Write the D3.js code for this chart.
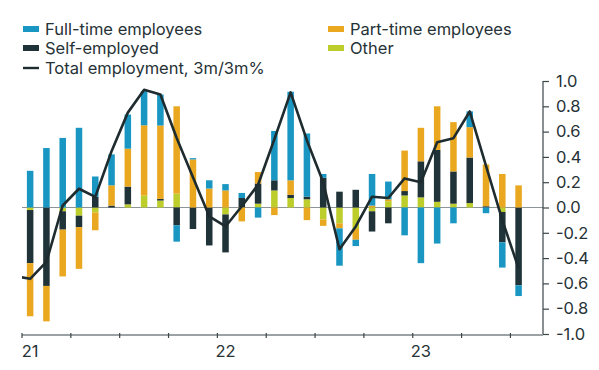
<!DOCTYPE html>
<html>
<head>
<meta charset="utf-8">
<script src="https://cdn.jsdelivr.net/npm/d3@7"></script>
<style>
  body { margin: 0; background: #fff; }
  svg text { font-family: Inter, "Liberation Sans", sans-serif; fill: #263236; }
</style>
</head>
<body>
<svg id="chart" width="599" height="370"></svg>
<script>
// Monthly, Jan 2021 - Jul 2023 (contributions, percentage points)
var months = ['2021-01','2021-02','2021-03','2021-04','2021-05','2021-06','2021-07','2021-08','2021-09','2021-10','2021-11','2021-12',
              '2022-01','2022-02','2022-03','2022-04','2022-05','2022-06','2022-07','2022-08','2022-09','2022-10','2022-11','2022-12',
              '2023-01','2023-02','2023-03','2023-04','2023-05','2023-06','2023-07'];

var fullTime = [0.29, 0.47, 0.55, 0.63, 0.16, 0.245, 0.27, 0.27, 0.245, -0.13, 0.01, 0.065,
                0.05, 0.04, -0.08, 0.39, 0.70, 0.50, 0.03, -0.295, -0.05, 0.25, 0.14, -0.22,
                -0.44, -0.285, -0.125, 0.125, -0.045, -0.20, -0.085];
var partTime = [-0.42, -0.28, -0.37, -0.33, -0.14, 0.16, 0.30, 0.555, 0.58, 0.69, 0.38, 0.15,
                0.135, -0.11, 0.09, -0.06, 0.115, -0.10, -0.05, -0.04, -0.085, 0.015, 0.015, 0.32,
                0.265, 0.345, 0.39, 0.24, 0.33, 0.265, 0.175];
var selfEmployed = [-0.42, -0.62, -0.145, -0.09, 0.085, 0.015, 0.14, 0, 0.013, -0.14, -0.17, -0.30,
                    -0.30, 0.075, 0.16, 0.08, 0.025, 0.02, 0.235, 0.125, 0.14, -0.16, -0.125, 0.035,
                    0.285, 0.41, 0.255, 0.36, 0.01, -0.24, -0.615];
var other = [-0.02, 0, -0.03, -0.065, -0.04, 0, 0.025, 0.095, 0.055, 0.11, 0, 0,
             -0.055, 0, 0.03, 0.135, 0.075, 0.065, -0.095, -0.125, -0.17, -0.03, 0.05, 0.095,
             0.08, 0.045, 0.03, 0.035, 0, -0.035, 0];

// Total employment line starts one month earlier (Dec 2020), clipped at the axis
var totalMonths = ['2020-12'].concat(months);
var total = [-0.54, -0.564, -0.43, 0.016, 0.148, 0.084, 0.445, 0.75, 0.93, 0.893, 0.55, 0.24, -0.07,
             -0.15, 0.01, 0.18, 0.54, 0.91, 0.53, 0.2, -0.33, -0.15, 0.085, 0.075, 0.23,
             0.2, 0.515, 0.548, 0.759, 0.33, -0.1, -0.48];

var yTicks = [1.0, 0.8, 0.6, 0.4, 0.2, 0.0, -0.2, -0.4, -0.6, -0.8, -1.0];
var yearLabels = [['2021-01', '21'], ['2022-01', '22'], ['2023-01', '23']];

var seriesKeys = ['other', 'self', 'part', 'full'];
var seriesColors = { full: '#1996c1', part: '#e9a820', self: '#1f3338', other: '#bccd2c' };
var legendItems = [
  { label: 'Full-time employees', key: 'full', x: 23, y: 29 },
  { label: 'Self-employed', key: 'self', x: 23, y: 48 },
  { label: 'Total employment, 3m/3m%', key: 'line', x: 23, y: 68 },
  { label: 'Part-time employees', key: 'part', x: 328, y: 29 },
  { label: 'Other', key: 'other', x: 328, y: 48 }
];

var plotLeft = 22, plotRight = 543, plotTop = 81, plotBottom = 334;
var parse = d3.timeParse('%Y-%m');
var fmt = d3.timeFormat('%Y-%m');

var svg = d3.select('#chart');

// 32 monthly slots from Jan 2021 to Aug 2023, plus Dec 2020 to the left
var slots = d3.timeMonth.range(parse('2020-12'), parse('2023-09')).map(fmt);
var step = (plotRight - plotLeft) / 32;
var x = d3.scaleBand().domain(slots).range([plotLeft - step, plotRight]).paddingInner(0.6).paddingOuter(0.3);
var y = d3.scaleLinear().domain([-1, 1]).range([plotBottom, plotTop]);

var rows = months.map(function(m, i) {
  return { month: m, full: fullTime[i], part: partTime[i], self: selfEmployed[i], other: other[i] };
});
var stacked = d3.stack().keys(seriesKeys).offset(d3.stackOffsetDiverging)(rows);

var center = function(m) { return x(m) + x.bandwidth() / 2; };

// zero line
svg.append('line')
  .attr('x1', plotLeft).attr('x2', plotRight)
  .attr('y1', y(0)).attr('y2', y(0))
  .attr('stroke', '#8c9497').attr('stroke-width', 1);

svg.append('g').selectAll('g')
  .data(stacked)
  .enter().append('g')
  .attr('fill', function(s) { return seriesColors[s.key]; })
  .selectAll('rect')
  .data(function(s) { return s; })
  .enter().append('rect')
  .attr('x', function(d) { return x(d.data.month); })
  .attr('width', x.bandwidth())
  .attr('y', function(d) { return y(Math.max(d[0], d[1])); })
  .attr('height', function(d) { return Math.abs(y(d[0]) - y(d[1])); });

svg.append('clipPath').attr('id', 'plotclip')
  .append('rect').attr('x', plotLeft).attr('y', 0).attr('width', plotRight - plotLeft).attr('height', 370);

var line = d3.line()
  .x(function(d, i) { return center(totalMonths[i]); })
  .y(function(d) { return y(d); });

svg.append('path')
  .datum(total)
  .attr('clip-path', 'url(#plotclip)')
  .attr('fill', 'none')
  .attr('stroke', '#1e2b2f')
  .attr('stroke-width', 2.6)
  .attr('stroke-linejoin', 'round')
  .attr('d', line);

// y axis on the right
var yAxis = svg.append('g')
  .attr('transform', 'translate(' + plotRight + ',0)')
  .call(d3.axisRight(y).tickValues(yTicks).tickSize(6).tickPadding(7).tickFormat(d3.format('.1f')));
yAxis.selectAll('path, line').attr('stroke', '#3b4649').attr('stroke-width', 1.2);
yAxis.selectAll('text').attr('font-size', 16.5).style('fill', '#263236')
  .text(function(d) { return d3.format('.1f')(d).replace('−', '-'); });
yAxis.select('.domain').attr('d', 'M0,' + plotTop + 'V' + plotBottom);

// x axis: quarter ticks at month starts, year labels under January bars
var quarterStarts = slots.filter(function(m, i) { return i > 0 && (i - 1) % 3 === 0; });
var xAxis = svg.append('g');
xAxis.append('line')
  .attr('x1', plotLeft).attr('x2', plotRight)
  .attr('y1', plotBottom + 1).attr('y2', plotBottom + 1)
  .attr('stroke', '#3b4649').attr('stroke-width', 1.2);
xAxis.selectAll('line.tick')
  .data(quarterStarts)
  .enter().append('line')
  .attr('class', 'tick')
  .attr('x1', function(m) { return x(m) - x.step() * 0.3; })
  .attr('x2', function(m) { return x(m) - x.step() * 0.3; })
  .attr('y1', plotBottom - 1).attr('y2', plotBottom + 4)
  .attr('stroke', '#3b4649').attr('stroke-width', 1.2);
xAxis.selectAll('text')
  .data(yearLabels)
  .enter().append('text')
  .attr('x', function(d) { return center(d[0]); })
  .attr('y', 357)
  .attr('text-anchor', 'middle')
  .attr('font-size', 16.5)
  .text(function(d) { return d[1]; });

// legend
var legend = svg.append('g').selectAll('g')
  .data(legendItems)
  .enter().append('g')
  .attr('transform', function(d) { return 'translate(' + d.x + ',' + d.y + ')'; });
legend.filter(function(d) { return d.key !== 'line'; })
  .append('rect')
  .attr('x', 0).attr('y', -3).attr('width', 16).attr('height', 6)
  .attr('fill', function(d) { return seriesColors[d.key]; });
legend.filter(function(d) { return d.key === 'line'; })
  .append('line')
  .attr('x1', 0).attr('x2', 16).attr('y1', 0).attr('y2', 0)
  .attr('stroke', '#1e2b2f').attr('stroke-width', 2.4);
legend.append('text')
  .attr('x', 22).attr('y', 0).attr('dy', '0.35em')
  .attr('font-size', 16.5)
  .text(function(d) { return d.label; });
</script>
</body>
</html>
